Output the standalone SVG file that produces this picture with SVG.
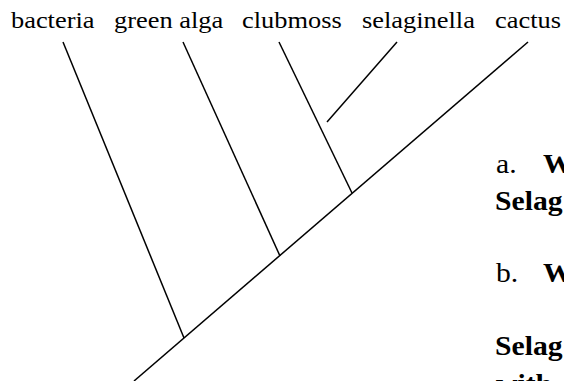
<svg xmlns="http://www.w3.org/2000/svg" width="564" height="381" viewBox="0 0 564 381">
  <style>
    .lbl { font-family: "Liberation Serif", "Times New Roman", serif; font-size: 24px; fill: #000; }
    .q { font-family: "Liberation Serif", "Times New Roman", serif; font-size: 26.5px; fill: #000; }
    .b { font-weight: bold; }
    .ln { stroke: #000; stroke-width: 1.5; fill: none; stroke-linecap: butt; }
  </style>
  <rect width="564" height="381" fill="#fff"/>
  <g id="connectors">
    <line class="ln" x1="134" y1="381" x2="528" y2="42"/>
    <line class="ln" x1="63" y1="42" x2="184" y2="338"/>
    <line class="ln" x1="183" y1="42" x2="280" y2="256"/>
    <line class="ln" x1="279" y1="42" x2="352" y2="193"/>
    <line class="ln" x1="397" y1="42" x2="327" y2="122"/>
  </g>
  <g id="bacteria"><text class="lbl" transform="translate(11,28) scale(1.1,1)">bacteria</text></g>
  <g id="green-alga"><text class="lbl" transform="translate(114,28) scale(1.1,1)">green alga</text></g>
  <g id="clubmoss"><text class="lbl" transform="translate(242,28) scale(1.1,1)">clubmoss</text></g>
  <g id="selaginella"><text class="lbl" transform="translate(362,28) scale(1.1,1)">selaginella</text></g>
  <g id="cactus"><text class="lbl" transform="translate(495,28) scale(1.1,1)">cactus</text></g>
  <g id="questions">
    <text class="q" transform="translate(496,173) scale(1.12,1)">a.</text>
    <text class="q b" transform="translate(543,173) scale(1.12,1)">W</text>
    <text class="q b" transform="translate(495,210) scale(1.12,1)">Selag</text>
    <text class="q" transform="translate(496,282) scale(1.12,1)">b.</text>
    <text class="q b" transform="translate(543,282) scale(1.12,1)">W</text>
    <text class="q b" transform="translate(495,355) scale(1.12,1)">Selag</text>
    <text class="q b" transform="translate(496,393) scale(1.12,1)">with</text>
  </g>
</svg>
